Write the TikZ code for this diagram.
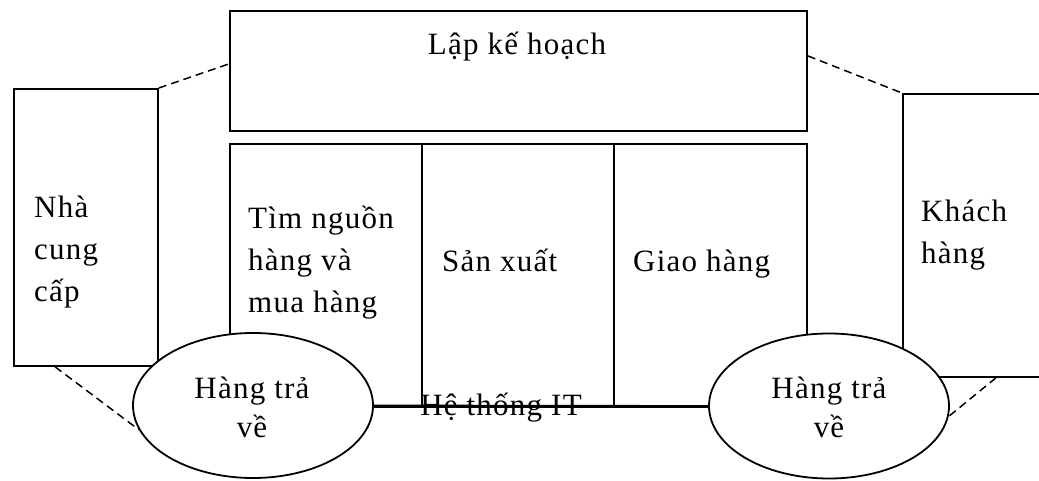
\documentclass[tikz,border=0pt]{standalone}
\usepackage{fontspec}
\setmainfont{Liberation Serif}[LetterSpace=4]
\usetikzlibrary{shapes.geometric,calc}
\begin{document}
\begin{tikzpicture}[x=1pt,y=-1pt,
  every node/.style={font=\fontsize{31}{42}\selectfont},
  boxnode/.style={draw,line width=1.8pt,inner sep=0pt,anchor=north west},
  retnode/.style={draw,fill=white,ellipse,line width=1.8pt,inner sep=0pt,
    minimum width=240pt,minimum height=145pt},
  txt/.style={anchor=base west,inner sep=0pt,align=left},
  rettxt/.style={anchor=base,inner sep=0pt,align=center,font=\fontsize{31}{39}\selectfont},
  link/.style={line width=1.5pt,dash pattern=on 8pt off 5pt},
  itline/.style={line width=1.8pt}]
\clip (0,0) rectangle (1039,481);
\fill[white] (0,0) rectangle (1039,481);

% planning band across the top
\node[boxnode,minimum width=577pt,minimum height=120pt] (plan) at (229,10) {};
\node[anchor=base,inner sep=0pt] (plantxt) at (517,55) {Lập kế hoạch};

% supplier and customer
\node[boxnode,minimum width=144pt,minimum height=277pt] (sup) at (13,88) {};
\node[boxnode,minimum width=150pt,minimum height=283pt] (cust) at (902,93) {};

% source / make / deliver columns
\node[boxnode,minimum width=192pt,minimum height=263pt] (src) at (229,143) {};
\node[boxnode,minimum width=192pt,minimum height=263pt] (make) at (421,143) {};
\node[boxnode,minimum width=193pt,minimum height=263pt] (dlv) at (613,143) {};

% return ellipses
\node[retnode] (ret1) at (253,405.5) {};
\node[retnode] (ret2) at (829,406) {};

% IT system line between the two returns
\draw[itline] (ret1.east) -- (ret2.west);
\node[anchor=base,inner sep=0pt] (ittxt) at (501,415) {Hệ thống IT};

% labels (base anchor sits on the last line)
\node[txt] (suptxt) at (34,301) {Nhà\\cung\\cấp};
\node[txt] (custtxt) at (921,263) {Khách\\hàng};
\node[txt] (srctxt) at (248,312) {Tìm nguồn\\hàng và\\mua hàng};
\node[txt] (maketxt) at (442,272) {Sản xuất};
\node[txt] (dlvtxt) at (633,272) {Giao hàng};
\node[rettxt] (r1txt) at (252,437) {Hàng trả\\về};
\node[rettxt] (r2txt) at (829,437) {Hàng trả\\về};

% dashed links
\draw[link] (sup.north east) -- ([yshift=7pt]plan.west);
\draw[link] ([yshift=15pt]plan.east) -- (cust.north west);
\draw[link] ([xshift=42pt]sup.south west) -- (ret1.192);
\draw[link] ([xshift=94pt]cust.south west) -- (ret2.-5);
\end{tikzpicture}
\end{document}
